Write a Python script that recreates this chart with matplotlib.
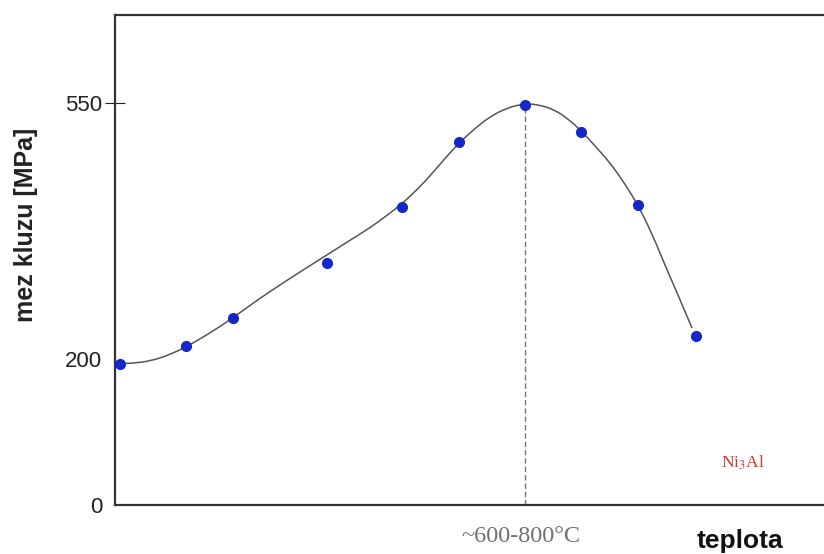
import matplotlib.pyplot as plt
from matplotlib.path import Path
from matplotlib.patches import PathPatch

# measured points (temperature in relative units, yield stress in MPa)
teplota = [5, 71, 118, 212, 287, 344, 410, 466, 523, 581]
mez_kluzu = [193, 217, 256, 331, 408, 497, 547, 510, 410, 231]

# hand-drawn trend curve (used as spline control points)
krivka_x = [5, 20, 35, 52, 71, 95, 118, 140, 165, 190, 212, 235, 255, 272, 287,
            302, 315, 330, 344, 360, 375, 392, 410, 425, 440, 453, 466, 480,
            495, 509, 523, 537, 550, 564, 577]
krivka_y = [193, 194, 197, 204, 216, 235, 256, 278, 301, 323, 342, 362, 379,
            396, 412, 431, 450, 474, 495, 515, 531, 543, 549, 547, 540, 528,
            512, 491, 468, 441, 410, 371, 328, 284, 242]

y_ticks = [0, 200, 550]
maximum_x = 410
maximum_y = 547

fig = plt.figure(figsize=(8.24, 5.54), dpi=100)
ax = fig.add_axes([115 / 824, 49 / 554, 709 / 824, 490 / 554])

# smooth quadratic spline through the control points
body = list(zip(krivka_x, krivka_y))
verts = [body[0]]
codes = [Path.MOVETO]
for i in range(1, len(body) - 1):
    mid = ((body[i][0] + body[i + 1][0]) / 2, (body[i][1] + body[i + 1][1]) / 2)
    verts += [body[i], mid]
    codes += [Path.CURVE3, Path.CURVE3]
verts.append(body[-1])
codes.append(Path.LINETO)
ax.add_patch(PathPatch(Path(verts, codes), fill=False, edgecolor="#555555", lw=1.1, zorder=2))

ax.plot(teplota, mez_kluzu, "o", color="#1428c8", markersize=7, zorder=3)
ax.plot([maximum_x, maximum_x], [0, maximum_y], ls=(0, (4, 2)), color="#777777", lw=1.0, zorder=1)

ax.set_xlim(0, 709)
ax.set_ylim(0, 670)

ax.spines["right"].set_visible(False)
for s in ["left", "bottom", "top"]:
    ax.spines[s].set_linewidth(1.6)
    ax.spines[s].set_color("#333333")

ax.set_xticks([])
ax.set_yticks(y_ticks)
ax.set_yticklabels([str(v) for v in y_ticks], fontsize=16, family="Liberation Sans")
ax.tick_params(axis="y", length=0, pad=9, colors="#222222")
ax.yaxis.get_major_ticks()[2].tick1line.set_markersize(14)
ax.yaxis.get_major_ticks()[2].tick1line.set_marker("_")

ax.set_ylabel("mez kluzu [MPa]", fontsize=18, fontweight="bold", family="Liberation Sans",
              color="#222222")
ax.yaxis.set_label_coords(-0.108, 0.571)

ax.text(maximum_x - 4, -0.065, "~600-800°C", transform=ax.get_xaxis_transform(),
        ha="center", va="center", fontsize=17.5, family="Liberation Serif", color="#707070")
ax.text(0.881, -0.073, "teplota", transform=ax.transAxes, ha="center", va="center",
        fontsize=19, fontweight="bold", family="Liberation Sans", color="#111111")
ax.text(0.886, 0.086, "Ni$_3$Al", transform=ax.transAxes, ha="center", va="center",
        fontsize=12.5, family="Liberation Serif", color="#e03030", math_fontfamily="stix")

fig.savefig("out.png", dpi=100)
